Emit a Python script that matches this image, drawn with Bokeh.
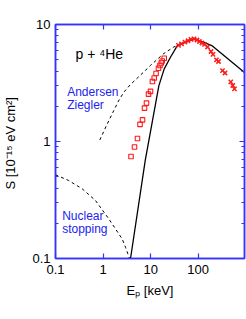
from bokeh.plotting import figure
from bokeh.models import LogAxis, FixedTicker, CustomJSTickFormatter, Label, Range1d
from bokeh.embed import file_html
from bokeh.resources import INLINE

# ---- data ----
x_major = [0.1, 1, 10, 100]
y_major = [0.1, 1, 10]
y_minor = [0.2, 0.3, 0.4, 0.5, 0.6, 0.7, 0.8, 0.9, 2, 3, 4, 5, 6, 7, 8, 9]

theory_E = [3.78, 7.7, 14.9, 19.3, 26.1, 37.2, 86.4, 193, 940]
theory_S = [0.1, 0.69, 3.0, 4.18, 5.25, 6.7, 7.55, 6.6, 3.89]

az_E = [0.853, 1.18, 1.68, 2.11, 2.73, 3.77, 7.08, 9.93, 18.6, 30.2, 38.5]
az_S = [1.03, 1.37, 1.84, 2.22, 2.64, 3.07, 3.91, 4.47, 5.62, 6.40, 6.69]

nuc_E = [0.1, 0.19, 0.364, 0.693, 1.32, 2.52, 2.96, 3.6]
nuc_S = [0.519, 0.464, 0.394, 0.313, 0.218, 0.147, 0.125, 0.1]

sq_E = [3.87, 4.58, 5.29, 5.98, 6.75, 7.43, 8.18, 9.02, 9.93, 10.9, 11.9, 13.0, 14.6, 15.7, 16.7, 17.5, 19.3]
sq_S = [0.744, 0.897, 1.06, 1.40, 1.53, 1.93, 2.13, 2.54, 2.68, 3.26, 3.49, 3.81, 4.23, 4.46, 4.69, 4.87, 5.15]

cr_E = [38.5, 44.6, 52.7, 61.0, 70.5, 81.6, 94.4, 106, 120, 136, 157, 186, 205, 242, 267, 324, 366, 484, 533, 579]
cr_S = [6.62, 6.84, 7.06, 7.26, 7.45, 7.55, 7.37, 7.16, 6.95, 6.75, 6.42, 5.88, 5.55, 4.98, 4.83, 4.04, 3.85, 3.23, 3.01, 2.82]

BLUE = "#3333ff"
TXT_BLUE = "#2222ee"
RED = "#ff1a1a"
FONT = "Liberation Sans"

p = figure(width=246, height=303, x_axis_type="log", y_axis_type="log",
           x_range=Range1d(0.1, 940), y_range=Range1d(0.1, 10),
           output_backend="svg", toolbar_location=None,
           min_border_left=55, min_border_right=2, min_border_top=24,
           min_border_bottom=45)
p.xgrid.grid_line_color = None
p.ygrid.grid_line_color = None
p.outline_line_color = BLUE
p.outline_line_width = 1.5
p.background_fill_color = "white"
p.border_fill_color = "white"


def style(ax, minor, labels):
    ax.axis_line_color = BLUE
    ax.axis_line_width = 1.5
    ax.major_tick_line_color = BLUE
    ax.major_tick_line_width = 1.2
    ax.major_tick_in = 5
    ax.major_tick_out = 0
    ax.minor_tick_line_color = BLUE if minor else None
    ax.minor_tick_line_width = 1.0
    ax.minor_tick_in = 3
    ax.minor_tick_out = 0
    ax.major_label_text_font = FONT
    ax.major_label_text_font_size = "13px"
    ax.major_label_text_color = "black"
    ax.axis_label_text_font = FONT
    ax.axis_label_text_font_size = "13px"
    ax.axis_label_text_font_style = "normal"
    ax.axis_label_text_color = "black"
    if labels:
        ax.formatter = CustomJSTickFormatter(code="return tick.toString();")
    else:
        ax.formatter = CustomJSTickFormatter(code="return '';")


xb = p.xaxis[0]
xb.ticker = FixedTicker(ticks=x_major)
style(xb, False, True)
xb.major_label_standoff = 6
xb.axis_label = "Eₚ [keV]"
xb.axis_label_standoff = 6

yl = p.yaxis[0]
yl.ticker = FixedTicker(ticks=y_major, minor_ticks=y_minor)
style(yl, True, True)
yl.major_label_standoff = 5
yl.axis_label = "S  [10⁻¹⁵ eV cm²]"
yl.axis_label_standoff = 11

xt = LogAxis(ticker=FixedTicker(ticks=x_major))
style(xt, False, False)
xt.major_label_standoff = 0
p.add_layout(xt, "above")

yr = LogAxis(ticker=FixedTicker(ticks=y_major, minor_ticks=y_minor))
style(yr, True, False)
yr.major_label_standoff = 0
p.add_layout(yr, "right")

# curves
p.line(nuc_E, nuc_S, line_color="black", line_width=1.0, line_dash="3 3")
p.line(az_E, az_S, line_color="black", line_width=1.0, line_dash="3 3")
p.line(theory_E, theory_S, line_color="black", line_width=1.3)

# data points
p.scatter(sq_E, sq_S, marker="square", size=4.5, fill_color=None,
          line_color=RED, line_width=1.1)
p.scatter(cr_E, cr_S, marker="x", size=6, line_color=RED, line_width=1.5)

# texts
p.add_layout(Label(x=0.263, y=5.55, text="p + ⁴He", text_font=FONT,
                   text_font_size="14px", text_color="black",
                   text_baseline="alphabetic"))
p.add_layout(Label(x=0.176, y=2.64, text="Andersen", text_font=FONT,
                   text_font_size="12px", text_color=TXT_BLUE,
                   text_baseline="alphabetic"))
p.add_layout(Label(x=0.176, y=2.06, text="Ziegler", text_font=FONT,
                   text_font_size="12px", text_color=TXT_BLUE,
                   text_baseline="alphabetic"))
p.add_layout(Label(x=0.138, y=0.233, text="Nuclear", text_font=FONT,
                   text_font_size="12px", text_color=TXT_BLUE,
                   text_baseline="alphabetic"))
p.add_layout(Label(x=0.138, y=0.179, text="stopping", text_font=FONT,
                   text_font_size="12px", text_color=TXT_BLUE,
                   text_baseline="alphabetic"))

open("out.html", "w").write(file_html(p, INLINE))
